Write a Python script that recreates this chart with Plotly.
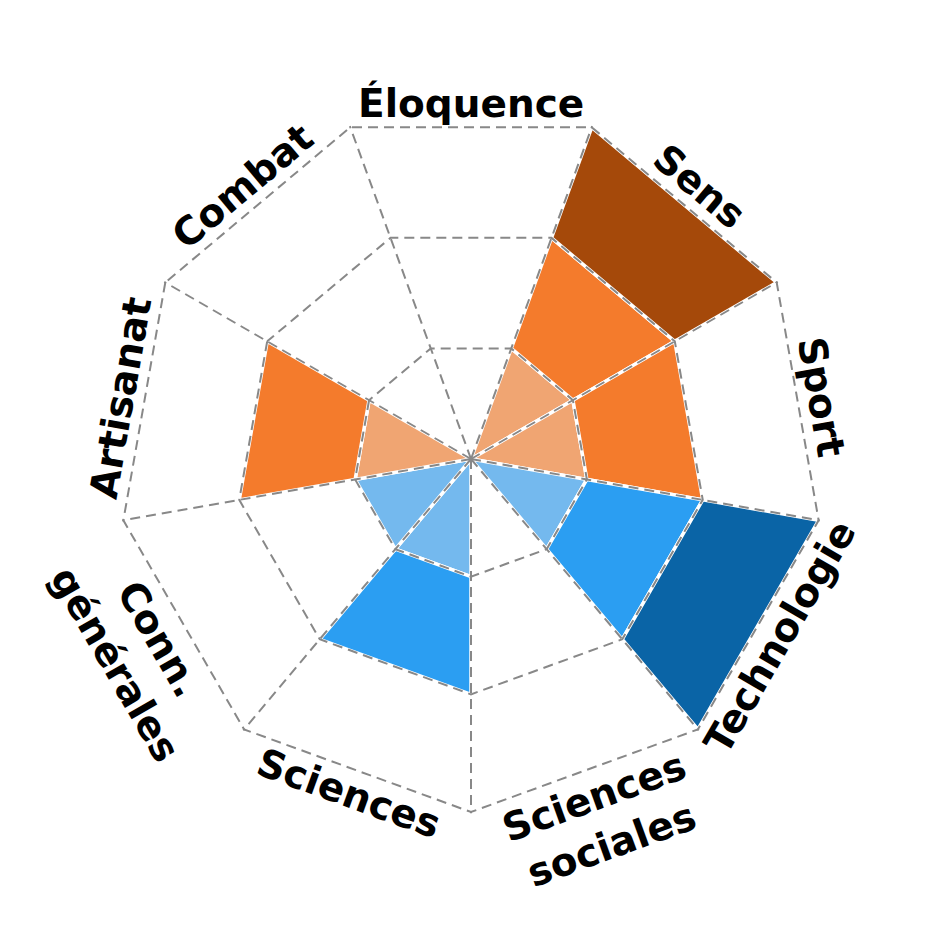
import math
import plotly.graph_objects as go

categories = ["Éloquence", "Sens", "Sport", "Technologie", "Sciences sociales",
              "Sciences", "Conn. générales", "Artisanat", "Combat"]
label_texts = ["Éloquence", "Sens", "Sport", "Technologie", "Sciences<br>sociales",
               "Sciences", "Conn.<br>générales", "Artisanat", "Combat"]
scores = [0, 3, 2, 3, 0, 2, 1, 2, 0]
groups = ["orange", "orange", "orange", "blue", "blue", "blue", "blue", "orange", "orange"]
levels = [1, 2, 3]

palette = {
    "orange": ["#F0A572", "#F47B2C", "#A5490A"],
    "blue": ["#74B9EE", "#2B9EF2", "#0A64A6"],
}

n = len(categories)
fig = go.Figure()
# each category's bar spans from its spoke to the next spoke (clockwise)
for i, cat in enumerate(categories):
    nxt = categories[(i + 1) % n]
    for k in levels:
        if scores[i] < k:
            continue
        col = palette[groups[i]][k - 1]
        fig.add_trace(go.Scatterpolar(
            r=[k - 1, k, k, k - 1, k - 1],
            theta=[cat, cat, nxt, nxt, cat],
            mode="lines", fill="toself", fillcolor=col,
            line=dict(color="white", width=3.5),
            name=f"{cat} – niveau {k}", showlegend=False, hoverinfo="name",
            subplot="polar",
        ))

# invisible trace so the overlaid grid subplot (drawn above the bars) exists
fig.add_trace(go.Scatterpolar(r=[0], theta=[categories[0]], mode="markers",
                              marker=dict(size=1, opacity=0), hoverinfo="skip",
                              showlegend=False, subplot="polar2"))

W = 945
cx_px, cy_px, R_px = 471, 459, 353
rmax = 3.01
R_dom = R_px * rmax / 3
dom_x = [(cx_px - R_dom) / W, (cx_px + R_dom) / W]
dom_y = [1 - (cy_px + R_dom) / W, 1 - (cy_px - R_dom) / W]

grid = "#888888"
dash = "10px,6px"


def polar_cfg(show_grid, bg):
    return dict(
        domain=dict(x=dom_x, y=dom_y),
        bgcolor=bg,
        gridshape="linear",
        radialaxis=dict(range=[0, rmax], tickvals=levels, showticklabels=False,
                        ticks="", showline=False, showgrid=show_grid,
                        gridcolor=grid, griddash=dash, gridwidth=2),
        angularaxis=dict(type="category", categoryarray=categories,
                         categoryorder="array",
                         rotation=110, direction="clockwise",
                         showticklabels=False, ticks="", showline=False,
                         showgrid=show_grid,
                         gridcolor=grid, griddash=dash, gridwidth=2),
    )


fig.update_layout(
    width=W, height=W,
    margin=dict(l=0, r=0, t=0, b=0),
    paper_bgcolor="white", plot_bgcolor="white",
    showlegend=False,
    polar=polar_cfg(False, "white"),
    polar2=polar_cfg(True, "rgba(0,0,0,0)"),
)

for i, txt in enumerate(label_texts):
    theta = 90 - i * 360 / n
    ang = 90 - theta
    ang = ((ang + 180) % 360) - 180
    if ang > 90:
        ang -= 180
    elif ang <= -90:
        ang += 180
    rl = 385 if "<br>" in txt else 356
    x = (cx_px + rl * math.cos(math.radians(theta))) / W
    y = 1 - (cy_px - rl * math.sin(math.radians(theta))) / W
    fig.add_annotation(x=x, y=y, xref="paper", yref="paper", text=txt,
                       showarrow=False, textangle=ang, align="center",
                       xanchor="center", yanchor="middle",
                       font=dict(family="DejaVu Sans", size=39, color="black", weight="bold"))

fig.write_html("out.html", config={"displayModeBar": False},
               post_script="document.body.style.margin='0';")
